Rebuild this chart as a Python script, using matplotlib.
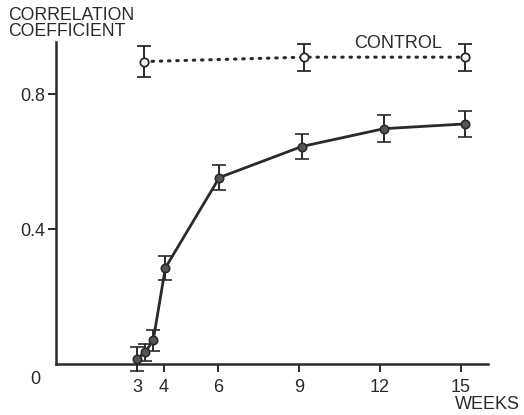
import numpy as np
import matplotlib
matplotlib.use('Agg')
import matplotlib.pyplot as plt

plt.rcParams['font.family'] = ['Liberation Sans', 'DejaVu Sans']

# Datos
semanas_trat = [3.0, 3.3, 3.6, 4.05, 6.05, 9.1, 12.15, 15.15]
corr_trat = [0.015, 0.035, 0.07, 0.285, 0.553, 0.645, 0.698, 0.712]
err_trat = [0.035, 0.025, 0.03, 0.035, 0.037, 0.037, 0.04, 0.038]

semanas_ctrl = [3.25, 9.2, 15.15]
corr_ctrl = [0.897, 0.91, 0.91]
err_ctrl = [0.046, 0.04, 0.04]

xticks = [3, 4, 6, 9, 12, 15]
yticks = [0.4, 0.8]

tinta = '#2a2a2a'

fig = plt.figure(figsize=(5.24, 4.15), dpi=100)
ax = fig.add_axes([56 / 524, 51 / 415, 432 / 524, 322 / 415])

# Grupo control: línea punteada y círculos abiertos
ax.errorbar(semanas_ctrl, corr_ctrl, yerr=err_ctrl, color=tinta,
            linestyle=(0, (0.5, 2.2)), linewidth=2.2, dash_capstyle='round',
            marker='o', markersize=6, markerfacecolor='white',
            markeredgecolor=tinta, markeredgewidth=1.3,
            elinewidth=1.4, capsize=5, capthick=1.6, clip_on=False, zorder=3)

# Grupo tratado: línea continua y círculos rellenos
ax.errorbar(semanas_trat, corr_trat, yerr=err_trat, color=tinta,
            linestyle='-', linewidth=2.0,
            marker='o', markersize=6, markerfacecolor='#555555',
            markeredgecolor=tinta, markeredgewidth=1.2,
            elinewidth=1.4, capsize=5, capthick=1.6, clip_on=False, zorder=3)

ax.set_xlim(0, 16)
ax.set_ylim(0, 0.955)

ax.spines['top'].set_visible(False)
ax.spines['right'].set_visible(False)
for lado in ['left', 'bottom']:
    ax.spines[lado].set_linewidth(1.8)
    ax.spines[lado].set_color(tinta)

ax.set_xticks(xticks)
ax.set_xticklabels([str(t) for t in xticks])
ax.set_yticks(yticks)
ax.set_yticklabels(['0.4', '0.8'])
ax.tick_params(direction='out', length=6, width=1.4, color=tinta,
               labelsize=13, labelcolor=tinta)
ax.tick_params(axis='x', pad=5)
ax.tick_params(axis='y', pad=2)

# Textos
fig.text(35 / 524, 1 - 380 / 415, '0', fontsize=13, color=tinta,
         ha='center', va='center')
fig.text(8 / 524, 1 - 7 / 415, 'CORRELATION\nCOEFFICIENT', fontsize=12.7,
         color=tinta, ha='left', va='top', linespacing=0.9)
fig.text(398 / 524, 1 - 43 / 415, 'CONTROL', fontsize=13, color=tinta,
         ha='center', va='center')
fig.text(487 / 524, 1 - 404 / 415, 'WEEKS', fontsize=13, color=tinta,
         ha='center', va='center')

fig.savefig('out.png', dpi=100)
